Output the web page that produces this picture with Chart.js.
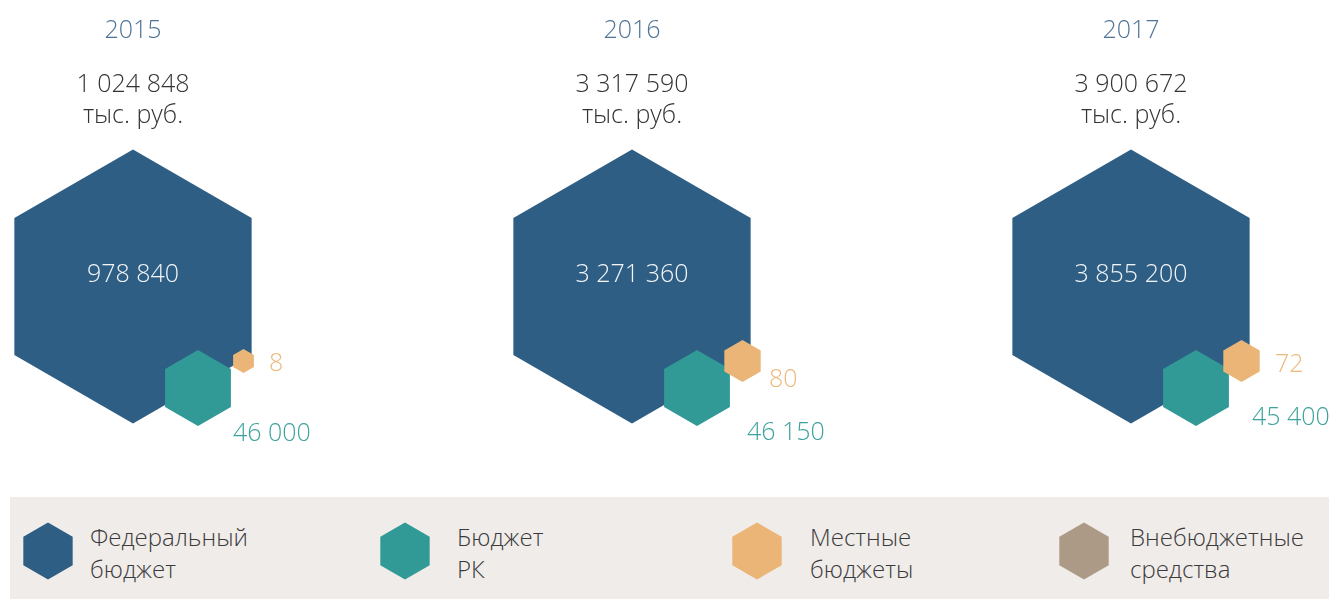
<!DOCTYPE html>
<html>
<head>
<meta charset="utf-8">
<script src="https://cdn.jsdelivr.net/npm/chart.js@4/dist/chart.umd.min.js"></script>
<style>
  body { margin: 0; background: #fff; font-family: 'Open Sans', 'Noto Sans', sans-serif; font-weight: 300; }
  #wrap { position: relative; width: 1329px; height: 599px; overflow: hidden; }
  #chartBox { position: absolute; left: 0; top: 0; width: 1329px; height: 497px; }
  #legend { position: absolute; left: 10px; top: 497px; width: 1330px; height: 102px; background: #f0ece9; }
  #legend svg { position: absolute; }
  #legend .txt { position: absolute; font-size: 24px; line-height: 32px; color: #3a3a3a; white-space: pre; }
</style>
</head>
<body>
<div id="wrap">
  <div id="chartBox"><canvas id="budgetChart"></canvas></div>
  <div id="legend"></div>
</div>
<script>
// data, thousand roubles
var years = ['2015', '2016', '2017'];
var federal = [978840, 3271360, 3855200];
var republic = [46000, 46150, 45400];
var local = [8, 80, 72];
var seriesNames = ['Федеральный\nбюджет', 'Бюджет\nРК', 'Местные\nбюджеты', 'Внебюджетные\nсредства'];
var colors = ['#2e5e84', '#319a96', '#eab577', '#ac9a86'];

// layout of the infographic (pixels, relative to each year's centre)
var hexCenterY = 286.5;
var hexOffset = [[0, 0], [65, 101.5], [110.5, 74.5]];
var hexRadius = [[137, 137, 137], [38, 38, 38], [12, 21, 21]];
var labelOffset = [
  [[0, -13.5], [0, -13.5], [0, -13.5]],
  [[100, 145.5], [115, 144.5], [121, 129.5]],
  [[136, 75.5], [137, 91.5], [144, 76.5]]
];
var labelColor = ['#f2f5f8', '#3ea39e', '#ecb87c'];
var fontFamily = "'Open Sans', 'Noto Sans', sans-serif";

function fmt(v) {
  return String(v).replace(/\B(?=(\d{3})+(?!\d))/g, ' ');
}

function hexPath(ctx, x, y, r) {
  ctx.beginPath();
  for (var i = 0; i < 6; i++) {
    var a = Math.PI / 180 * (60 * i - 90);
    var px = x + r * Math.cos(a), py = y + r * Math.sin(a);
    if (i === 0) ctx.moveTo(px, py); else ctx.lineTo(px, py);
  }
  ctx.closePath();
}

var hexPlugin = {
  id: 'hexPlugin',
  afterDatasetsDraw: function(chart) {
    var ctx = chart.ctx;
    ctx.save();
    ctx.font = '300 25px ' + fontFamily;
    ctx.textBaseline = 'alphabetic';

    // totals above each group
    var xMeta = chart.getDatasetMeta(0);
    xMeta.data.forEach(function(el, i) {
      var total = federal[i] + republic[i] + local[i];
      ctx.fillStyle = '#333333';
      ctx.textAlign = 'center';
      ctx.fillText(fmt(total), el.x, 92);
      ctx.fillText('тыс. руб.', el.x, 123);
    });

    chart.data.datasets.forEach(function(ds, d) {
      var meta = chart.getDatasetMeta(d);
      meta.data.forEach(function(el, i) {
        var cx = el.x + hexOffset[d][0];
        var cy = hexCenterY + hexOffset[d][1];
        hexPath(ctx, cx, cy, hexRadius[d][i]);
        ctx.fillStyle = colors[d];
        ctx.fill();
      });
    });

    chart.data.datasets.forEach(function(ds, d) {
      var meta = chart.getDatasetMeta(d);
      meta.data.forEach(function(el, i) {
        ctx.fillStyle = labelColor[d];
        ctx.textAlign = d === 0 ? 'center' : 'left';
        var lx = el.x + labelOffset[d][i][0];
        var ly = hexCenterY + labelOffset[d][i][1] + 9;
        ctx.fillText(fmt(ds.data[i]), lx, ly);
      });
    });
    ctx.restore();
  }
};

var ctx = document.getElementById('budgetChart');
var chart = new Chart(ctx, {
  type: 'line',
  data: {
    labels: years,
    datasets: [
      { label: seriesNames[0], data: federal },
      { label: seriesNames[1], data: republic },
      { label: seriesNames[2], data: local }
    ]
  },
  options: {
    responsive: true,
    maintainAspectRatio: false,
    animation: false,
    showLine: false,
    elements: { point: { radius: 0, hoverRadius: 0 } },
    events: [],
    layout: { padding: { top: 16, left: 133, right: 198, bottom: 0 } },
    plugins: { legend: { display: false }, tooltip: { enabled: false } },
    scales: {
      x: {
        type: 'category',
        position: 'top',
        offset: false,
        grid: { display: false, drawTicks: false },
        border: { display: false },
        ticks: {
          color: '#4f7396',
          font: { family: fontFamily, size: 25, weight: 300 },
          padding: 0,
          maxRotation: 0,
          autoSkip: false
        }
      },
      y: { display: false }
    }
  },
  plugins: [hexPlugin]
});

// html legend
var legendEl = document.getElementById('legend');
var iconX = [48, 405, 757, 1084];
var textX = [90, 457, 810, 1130];
seriesNames.forEach(function(name, i) {
  var r = 28.5, w = 50, h = 60, pts = [];
  for (var k = 0; k < 6; k++) {
    var a = Math.PI / 180 * (60 * k - 90);
    pts.push((w / 2 + r * Math.cos(a)).toFixed(2) + ',' + (h / 2 + r * Math.sin(a)).toFixed(2));
  }
  var svg = '<svg width="' + w + '" height="' + h + '" style="left:' + (iconX[i] - 10 - w / 2) +
    'px;top:' + (551 - 497 - h / 2) + 'px"><polygon points="' + pts.join(' ') + '" fill="' + colors[i] + '"/></svg>';
  var txt = '<div class="txt" style="left:' + (textX[i] - 10) + 'px;top:' + (521 - 497) + 'px">' + name + '</div>';
  legendEl.insertAdjacentHTML('beforeend', svg + txt);
});
</script>
</body>
</html>
